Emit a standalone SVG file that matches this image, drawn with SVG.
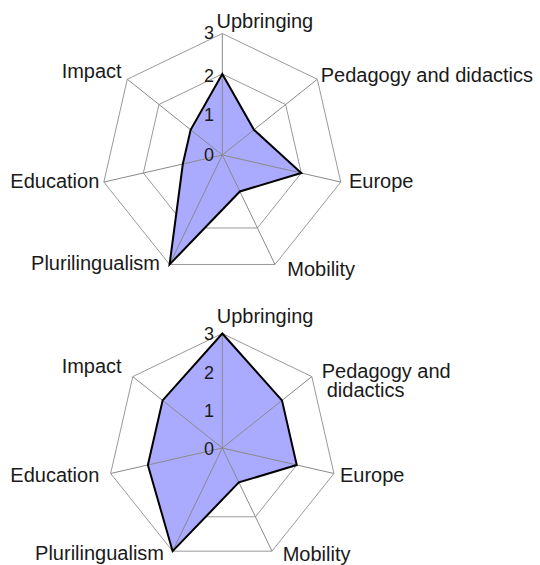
<svg xmlns="http://www.w3.org/2000/svg" width="540" height="565" viewBox="0 0 540 565">
<style>
.grid{fill:none;stroke:#9a9a9a;stroke-width:1}
.spoke{stroke:#8a8a8a;stroke-width:1}
.area{fill:#aaaaff;stroke:none}
.outline{fill:none;stroke:#000;stroke-width:2;stroke-linejoin:miter}
.lbl{font-family:"Liberation Sans",Arial,sans-serif;font-size:20px;fill:#1a1a1a}
.num{font-family:"Liberation Sans",Arial,sans-serif;font-size:18px;fill:#1a1a1a;text-anchor:end}
.end{text-anchor:end}
</style>
<rect width="540" height="565" fill="#fff"/>

<!-- Chart 1 -->
<g id="chart1">
  <g id="chart1-grid" transform="translate(222.3,155)">
    <polygon class="grid" points="0,-40.5 31.66,-25.25 39.48,9.01 17.57,36.49 -17.57,36.49 -39.48,9.01 -31.66,-25.25"/>
    <polygon class="grid" points="0,-81 63.33,-50.5 78.97,18.02 35.15,72.98 -35.15,72.98 -78.97,18.02 -63.33,-50.5"/>
    <polygon class="grid" points="0,-121.5 94.99,-75.75 118.45,27.04 52.72,109.47 -52.72,109.47 -118.45,27.04 -94.99,-75.75"/>
    <polygon id="chart1-data-fill" class="area" points="0,-81 31.66,-25.25 78.97,18.02 17.57,36.49 -52.72,109.47 -39.48,9.01 -31.66,-25.25"/>
  </g>
  <g id="chart1-connectors" transform="translate(222.3,155)">
    <line class="spoke" x1="0" y1="0" x2="0" y2="-121.5"/>
    <line class="spoke" x1="0" y1="0" x2="94.99" y2="-75.75"/>
    <line class="spoke" x1="0" y1="0" x2="118.45" y2="27.04"/>
    <line class="spoke" x1="0" y1="0" x2="52.72" y2="109.47"/>
    <line class="spoke" x1="0" y1="0" x2="-52.72" y2="109.47"/>
    <line class="spoke" x1="0" y1="0" x2="-118.45" y2="27.04"/>
    <line class="spoke" x1="0" y1="0" x2="-94.99" y2="-75.75"/>
  </g>
  <g id="chart1-data" transform="translate(222.3,155)">
    <polygon class="outline" points="0,-81 31.66,-25.25 78.97,18.02 17.57,36.49 -52.72,109.47 -39.48,9.01 -31.66,-25.25"/>
  </g>
  <g id="chart1-scale">
    <text class="num" x="214" y="39">3</text>
    <text class="num" x="214" y="81.5">2</text>
    <text class="num" x="214" y="121">1</text>
    <text class="num" x="214" y="161">0</text>
  </g>
  <g id="chart1-upbringing"><text class="lbl" x="216.5" y="27.5">Upbringing</text></g>
  <g id="chart1-pedagogy"><text class="lbl" x="320.7" y="81.5">Pedagogy and didactics</text></g>
  <g id="chart1-europe"><text class="lbl" x="349" y="188.3">Europe</text></g>
  <g id="chart1-mobility"><text class="lbl" x="287.3" y="276">Mobility</text></g>
  <g id="chart1-plurilingualism"><text class="lbl end" x="160" y="270">Plurilingualism</text></g>
  <g id="chart1-education"><text class="lbl end" x="99.3" y="188.3">Education</text></g>
  <g id="chart1-impact"><text class="lbl end" x="121.7" y="78.3">Impact</text></g>
</g>

<!-- Chart 2 -->
<g id="chart2">
  <g id="chart2-grid" transform="translate(222.3,448)">
    <polygon class="grid" points="0,-38.17 29.84,-23.8 37.21,8.49 16.56,34.39 -16.56,34.39 -37.21,8.49 -29.84,-23.8"/>
    <polygon class="grid" points="0,-76.33 59.68,-47.6 74.43,16.99 33.12,68.78 -33.12,68.78 -74.43,16.99 -59.68,-47.6"/>
    <polygon class="grid" points="0,-114.5 89.52,-71.39 111.63,25.48 49.68,103.16 -49.68,103.16 -111.63,25.48 -89.52,-71.39"/>
    <polygon id="chart2-data-fill" class="area" points="0,-114.5 59.68,-47.6 74.43,16.99 16.56,34.39 -49.68,103.16 -74.43,16.99 -59.68,-47.6"/>
  </g>
  <g id="chart2-connectors" transform="translate(222.3,448)">
    <line class="spoke" x1="0" y1="0" x2="0" y2="-114.5"/>
    <line class="spoke" x1="0" y1="0" x2="89.52" y2="-71.39"/>
    <line class="spoke" x1="0" y1="0" x2="111.63" y2="25.48"/>
    <line class="spoke" x1="0" y1="0" x2="49.68" y2="103.16"/>
    <line class="spoke" x1="0" y1="0" x2="-49.68" y2="103.16"/>
    <line class="spoke" x1="0" y1="0" x2="-111.63" y2="25.48"/>
    <line class="spoke" x1="0" y1="0" x2="-89.52" y2="-71.39"/>
  </g>
  <g id="chart2-data" transform="translate(222.3,448)">
    <polygon class="outline" points="0,-114.5 59.68,-47.6 74.43,16.99 16.56,34.39 -49.68,103.16 -74.43,16.99 -59.68,-47.6"/>
  </g>
  <g id="chart2-scale">
    <text class="num" x="214" y="339.5">3</text>
    <text class="num" x="214" y="378.5">2</text>
    <text class="num" x="214" y="416.5">1</text>
    <text class="num" x="214" y="454.5">0</text>
  </g>
  <g id="chart2-upbringing"><text class="lbl" x="216.7" y="323.3">Upbringing</text></g>
  <g id="chart2-pedagogy"><text class="lbl" x="321.7" y="377.5"><tspan x="321.7">Pedagogy and</tspan><tspan x="326.7" dy="19.5">didactics</tspan></text></g>
  <g id="chart2-europe"><text class="lbl" x="340" y="481.7">Europe</text></g>
  <g id="chart2-mobility"><text class="lbl" x="282.7" y="560.5">Mobility</text></g>
  <g id="chart2-plurilingualism"><text class="lbl end" x="164" y="560">Plurilingualism</text></g>
  <g id="chart2-education"><text class="lbl end" x="99.3" y="481.7">Education</text></g>
  <g id="chart2-impact"><text class="lbl end" x="121.7" y="373.3">Impact</text></g>
</g>
</svg>
